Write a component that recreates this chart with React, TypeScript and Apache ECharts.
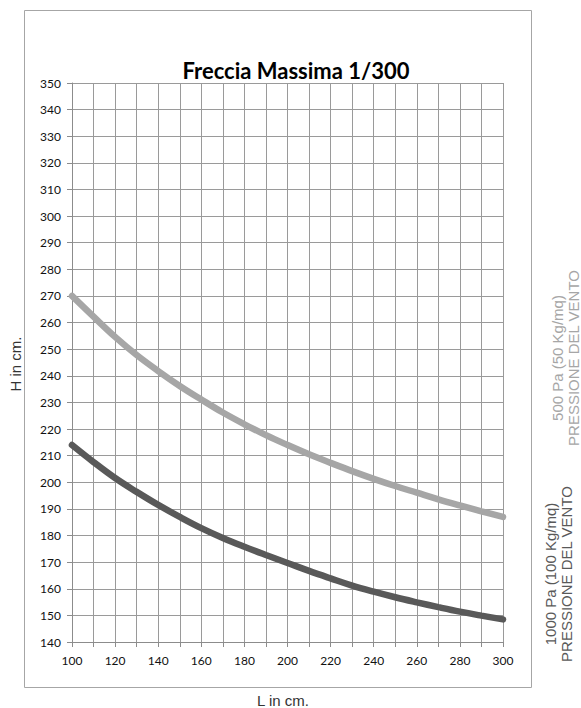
import React, { useEffect, useRef } from "react";
import * as echarts from "echarts";

const lengthsCm = [100, 110, 120, 130, 140, 150, 160, 170, 180, 190, 200, 210, 220, 230, 240, 250, 260, 270, 280, 290, 300];
const height500Pa = [270, 262.2, 254.6, 247.8, 241.8, 236.2, 231.1, 226.2, 221.8, 217.7, 214, 210.5, 207.3, 204.2, 201.3, 198.6, 196.1, 193.6, 191.3, 189.1, 187];
const height1000Pa = [214, 207.6, 201.6, 196.4, 191.5, 187, 182.8, 179.1, 175.8, 172.7, 169.7, 166.7, 163.9, 161.2, 158.9, 156.8, 154.9, 153.1, 151.4, 149.9, 148.5];

const titleText = "Freccia Massima 1/300";
const xTitle = "L in cm.";
const yTitle = "H in cm.";
const label500 = ["500 Pa (50 Kg/mq)", "PRESSIONE DEL VENTO"];
const label1000 = ["1000 Pa (100 Kg/mq)", "PRESSIONE DEL VENTO"];

const LIGHT = "#a6a6a6";
const DARK = "#595959";

export default function App() {
  const ref = useRef<HTMLDivElement>(null);
  useEffect(() => {
    if (!ref.current) return;
    const chart = echarts.init(ref.current, null, { renderer: "svg" });
    const rotText = (text: string, x: number, y: number, color: string, size: number) => ({
      type: "text",
      x,
      y,
      rotation: Math.PI / 2,
      silent: true,
      style: {
        text,
        fill: color,
        fontSize: size,
        fontFamily: '"Liberation Sans", Arial, sans-serif',
        textAlign: "center",
        textVerticalAlign: "middle",
        verticalAlign: "middle",
      },
    });
    chart.setOption({
      animation: false,
      backgroundColor: "#ffffff",
      grid: { left: 72, top: 83, width: 431, height: 559, containLabel: false },
      xAxis: {
        type: "value",
        min: 100,
        max: 300,
        interval: 10,
        axisLine: { show: true, lineStyle: { color: "#8c8c8c", width: 1 } },
        axisTick: { show: true, length: 5, inside: false, lineStyle: { color: "#8c8c8c" } },
        axisLabel: {
          margin: 12,
          color: "#111111",
          fontSize: 12,
          fontFamily: "Lato, sans-serif",
          formatter: (v: number) => (v % 20 === 0 ? String(v) : ""),
        },
        splitLine: { show: true, lineStyle: { color: "#9a9a9a", width: 1 } },
      },
      yAxis: {
        type: "value",
        min: 140,
        max: 350,
        interval: 10,
        axisLine: { show: true, lineStyle: { color: "#8c8c8c", width: 1 } },
        axisTick: { show: true, length: 5, inside: false, lineStyle: { color: "#8c8c8c" } },
        axisLabel: {
          margin: 11,
          color: "#111111",
          fontSize: 12,
          fontFamily: "Lato, sans-serif",
        },
        splitLine: { show: true, lineStyle: { color: "#9a9a9a", width: 1 } },
      },
      series: [
        {
          type: "line",
          name: label500.join(" "),
          data: lengthsCm.map((l, i) => [l, height500Pa[i]]),
          smooth: 0.4,
          showSymbol: false,
          lineStyle: { color: LIGHT, width: 6.5, cap: "round" },
          z: 3,
        },
        {
          type: "line",
          name: label1000.join(" "),
          data: lengthsCm.map((l, i) => [l, height1000Pa[i]]),
          smooth: 0.4,
          showSymbol: false,
          lineStyle: { color: DARK, width: 6.5, cap: "round" },
          z: 3,
        },
      ],
      graphic: [
        {
          type: "rect",
          shape: { x: 24.5, y: 10.5, width: 507, height: 677 },
          style: { fill: "none", stroke: "#a6a6a6", lineWidth: 1 },
          silent: true,
          z: -1,
        },
        {
          type: "text",
          x: 296,
          y: 70,
          silent: true,
          style: {
            text: titleText,
            fill: "#000000",
            fontSize: 22,
            fontWeight: "bold",
            fontFamily: "Lato, sans-serif",
            textAlign: "center",
            textVerticalAlign: "middle",
            verticalAlign: "middle",
          },
        },
        {
          type: "text",
          x: 283,
          y: 700,
          silent: true,
          style: {
            text: xTitle,
            fill: "#333333",
            fontSize: 15,
            fontFamily: '"Liberation Sans", Arial, sans-serif',
            textAlign: "center",
            textVerticalAlign: "middle",
            verticalAlign: "middle",
          },
        },
        rotText(yTitle, 15, 364, "#333333", 15),
        rotText(label500[0], 557, 358, LIGHT, 15),
        rotText(label500[1], 573, 358, LIGHT, 15),
        rotText(label1000[0], 550, 574, DARK, 15),
        rotText(label1000[1], 566, 574, DARK, 15),
      ],
    });
    return () => chart.dispose();
  }, []);
  return (
    <div
      ref={ref}
      style={{ position: "absolute", left: 0, top: 0, width: 581, height: 708 }}
    />
  );
}
